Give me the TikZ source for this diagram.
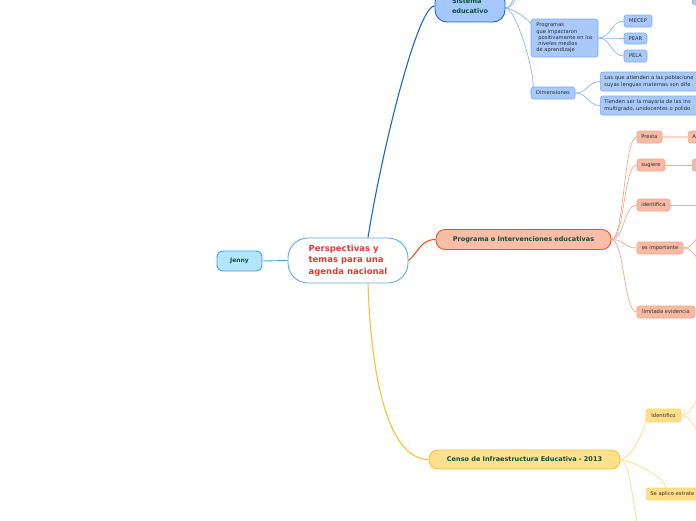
\documentclass[tikz,border=0pt]{standalone}
\usepackage{fontspec}
\setmainfont{DejaVu Sans}
\usetikzlibrary{backgrounds}
\definecolor{maintxt}{HTML}{0F4D3A}
\definecolor{subtxt}{HTML}{2B2B2B}
\definecolor{cenred}{HTML}{E53935}
\definecolor{cenedge}{HTML}{5DA9DF}
\definecolor{jfill}{HTML}{B3E5FC}
\definecolor{jedge}{HTML}{35A8DC}
\definecolor{bluemain}{HTML}{A4C8FC}
\definecolor{blueedge}{HTML}{1A66CC}
\definecolor{bluesub}{HTML}{A9C9FB}
\definecolor{bluesubedge}{HTML}{7BAAF0}
\definecolor{bluesubline}{HTML}{8AB6F5}
\definecolor{ormain}{HTML}{F9BDA8}
\definecolor{oredge}{HTML}{F4511E}
\definecolor{orsub}{HTML}{F8BAA4}
\definecolor{orsubedge}{HTML}{F4A488}
\definecolor{orsubline}{HTML}{F6A98F}
\definecolor{orpale}{HTML}{FCD3C4}
\definecolor{yelmain}{HTML}{FFE08C}
\definecolor{yeledge}{HTML}{FBC02D}
\definecolor{yelsub}{HTML}{FFDF8A}
\definecolor{yelsubedge}{HTML}{FFD56A}
\definecolor{yelsubline}{HTML}{FFD980}
\tikzset{
  box/.style={rounded corners=2.5pt,line width=0.6pt,inner sep=0pt,font=\fontsize{5.2}{6.2}\selectfont,text=subtxt},
  bluebox/.style={box,fill=bluesub,draw=bluesubedge},
  orbox/.style={box,fill=orsub,draw=orsubedge},
  yelbox/.style={box,fill=yelsub,draw=yelsubedge},
  cutbox/.style={anchor=west,inner xsep=4pt,text width=120pt,align=left,minimum height=12pt},
  mainbox/.style={rounded corners=9pt,line width=0.9pt,inner sep=0pt,font=\bfseries\fontsize{6.5}{8}\selectfont,text=maintxt},
  subline/.style={line width=0.7pt}
}
\begin{document}
\begin{tikzpicture}[x=1pt,y=1pt]
\useasboundingbox (0,0) rectangle (696,-520);
\node[mainbox,fill=jfill,draw=jedge,rounded corners=6pt,minimum width=45pt,minimum height=20pt,font=\bfseries\fontsize{6}{7}\selectfont] (jenny) at (239.5,-261) {Jenny};
\node[mainbox,fill=white,draw=cenedge,rounded corners=20pt,minimum width=120pt,minimum height=45pt,align=left,text=cenred,font=\bfseries\fontsize{8.5}{11.3}\selectfont] (cen) at (348,-260.5) {Perspectivas y\\temas para una\\agenda nacional};
\node[mainbox,fill=bluemain,draw=blueedge,rounded corners=12pt,minimum width=70pt,minimum height=32pt,align=left,font=\bfseries\fontsize{6.5}{10}\selectfont] (sis) at (470,-6) {Sistema\\educativo};
\node[mainbox,fill=ormain,draw=oredge,minimum width=175pt,minimum height=20pt] (prog) at (523.5,-239.5) {Programa o Intervenciones educativas};
\node[mainbox,fill=yelmain,draw=yeledge,minimum width=191pt,minimum height=19pt] (censo) at (524.5,-459.5) {Censo de Infraestructura Educativa - 2013};
% Sistema educativo
\node[bluebox,minimum width=67pt,minimum height=38pt,align=left] (progs) at (564.5,-38) {Programas\\que impactaron\\\hspace{2pt}positivamente en los\\\hspace{2pt}niveles medios\\de aprendizaje};
\node[bluebox,minimum width=28pt,minimum height=12pt] (mecep) at (638,-21) {MECEP};
\node[bluebox,minimum width=23pt,minimum height=11pt] (pear) at (635.5,-38.5) {PEAR};
\node[bluebox,minimum width=23pt,minimum height=12pt] (pela) at (635.5,-56) {PELA};
\node[bluebox,minimum width=44pt,minimum height=12pt] (dim) at (553,-93) {Dimensiones};
\node[bluebox,cutbox,minimum height=19pt] (pobl) at (600,-81.5) {Las que atienden a las poblacione\\cuyas lenguas maternas son dife};
\node[bluebox,cutbox,minimum height=19pt] (mayor) at (600,-105.5) {Tienden ser la mayoría de las ins\\multigrado, unidocentes o polido};
\node[bluebox,anchor=south west,minimum width=20pt,minimum height=12pt] (topcut) at (692,-5) {};
\coordinate (sisup1) at (531,20);
\coordinate (sisup2) at (533,45);
% Programa o Intervenciones educativas
\node[orbox,minimum width=25pt,minimum height=12pt] (presta) at (649.5,-137) {Presta};
\node[orbox,minimum width=28pt,minimum height=12pt] (sugiere) at (651,-165) {sugiere};
\node[orbox,minimum width=33pt,minimum height=12pt] (ident) at (653.5,-205) {identifica};
\node[orbox,minimum width=46pt,minimum height=12pt] (esimp) at (660,-248) {es importante};
\node[orbox,minimum width=58pt,minimum height=12pt] (limev) at (666,-312) {limitada evidencia};
\node[orbox,cutbox] (presta2) at (688,-137) {A};
\node[orbox,cutbox] (sugiere2) at (692,-165) {};
\coordinate (identout) at (710,-205);
\coordinate (esimpup) at (712,-226);
\coordinate (esimpdn) at (712,-270);
% Censo
\node[yelbox,minimum width=35pt,minimum height=13pt] (identi) at (663.5,-415.5) {Identifico};
\node[yelbox,cutbox] (seapl) at (646,-494) {Se aplico estrate};
\coordinate (censodn) at (647,-545);
\coordinate (identiup) at (712,-385);
\coordinate (identidn) at (712,-445);
\begin{scope}[on background layer]
\draw[jedge,line width=0.9pt] (jenny.east) -- (cen.west);
\draw[blueedge,line width=1.1pt] ([xshift=20pt]cen.north) .. controls +(14,88) and +(-17,0) .. (sis.west);
\draw[oredge,line width=1.1pt] (cen.east) .. controls +(10,8) and +(-15,0) .. (prog.west);
\draw[yeledge,line width=1.1pt] ([xshift=20pt]cen.south) .. controls +(4,-117) and +(-34,0) .. (censo.west);
\foreach \k in {progs,dim,sisup1,sisup2}
  \draw[bluesubline,subline] ([yshift=-2pt]sis.east) .. controls +(12,0) and +(-12,0) .. (\k);
\foreach \k in {mecep,pear,pela}
  \draw[bluesubline,subline] (progs.east) .. controls +(13,0) and +(-13,0) .. (\k.west);
\foreach \k in {pobl,mayor}
  \draw[bluesubline,subline] (dim.east) .. controls +(12,0) and +(-12,0) .. (\k.west);
\foreach \k in {presta,sugiere,ident,esimp,limev}
  \draw[orsubline,subline] (prog.east) .. controls +(13,0) and +(-13,0) .. (\k.west);
\draw[orpale,line width=1.4pt] (presta.east) -- (presta2.west);
\draw[orsubline,subline] (sugiere.east) -- (sugiere2.west);
\draw[orsubline,subline] (ident.east) -- (identout);
\foreach \k in {esimpup,esimpdn}
  \draw[orsubline,subline] (esimp.east) .. controls +(14,0) and +(-14,0) .. (\k);
\foreach \k in {identi,seapl,censodn}
  \draw[yelsubline,subline] (censo.east) .. controls +(13,0) and +(-13,0) .. (\k);
\foreach \k in {identiup,identidn}
  \draw[yelsubline,subline] (identi.east) .. controls +(14,0) and +(-14,0) .. (\k);
\end{scope}
\end{tikzpicture}
\end{document}
